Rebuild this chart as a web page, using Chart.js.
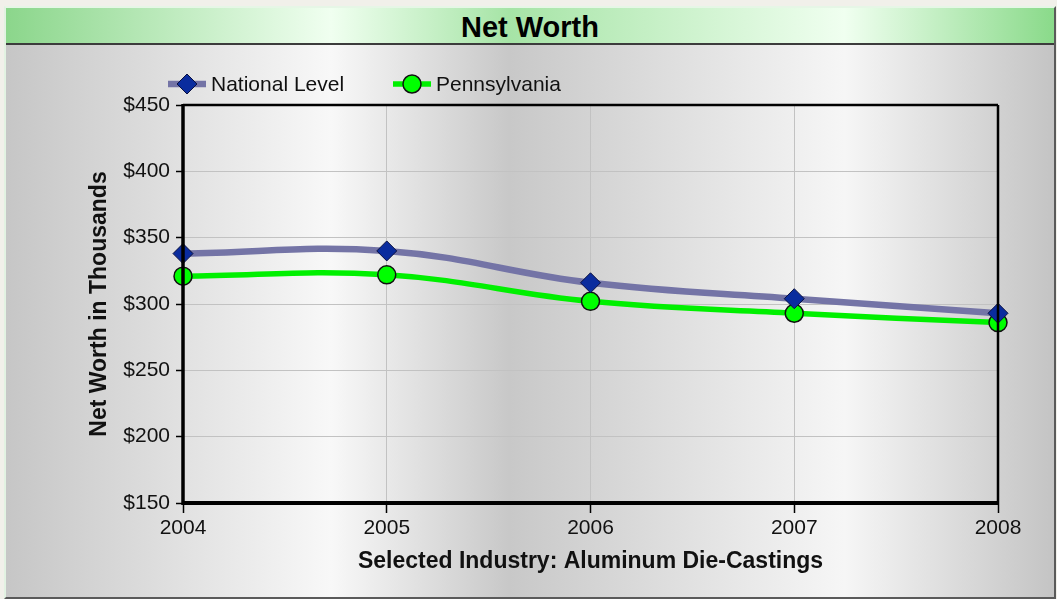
<!DOCTYPE html>
<html>
<head>
<meta charset="utf-8">
<title>Net Worth</title>
<script src="https://cdn.jsdelivr.net/npm/chart.js@4.4.1/dist/chart.umd.min.js"></script>
<style>
  html, body { margin: 0; padding: 0; width: 1057px; height: 599px; overflow: hidden; background: #f1f0ea; }
  #panel {
    position: absolute; left: 4px; top: 6px; width: 1048px; height: 589px;
    border-left: 2px solid #e2f2e2; border-top: 2px solid #e6f6e6;
    border-right: 2px solid #5a5a5a; border-bottom: 2px solid #5a5a5a;
    background: linear-gradient(90deg, #c6c6c6 0%, #f8f8f8 31%, #c8c8c8 48%, #f6f6f6 80%, #c4c4c4 100%);
  }
  #head {
    position: absolute; left: 0; top: 0; right: 0; height: 35px;
    border-bottom: 2px solid #3c3c3c;
    background: linear-gradient(90deg, #8bd68b 0%, #f0fff0 31%, #a6e4a6 48%, #f0fff0 80%, #8ada8a 100%);
    font: bold 29px 'Liberation Sans', Arial, sans-serif; color: #000;
    text-align: center; line-height: 39px;
  }
  #chart { position: absolute; left: 0; top: 0; }
</style>
</head>
<body>
<div id="panel"><div id="head">Net Worth</div></div>
<canvas id="chart" width="1057" height="599"></canvas>
<script>
// Years on the category axis
const years = ['2004', '2005', '2006', '2007', '2008'];
// Net worth, in thousands of dollars
const nationalLevel = [338, 340, 316, 304, 293];
const pennsylvania = [321, 322, 302, 293, 286];
// Value axis range and step
const yMin = 150;
const yMax = 450;
const yStep = 50;
// Series names and axis titles
const seriesNames = ['National Level', 'Pennsylvania'];
const yTitle = 'Net Worth in Thousands';
const xTitle = 'Selected Industry: Aluminum Die-Castings';

const FONT = "'Liberation Sans', Arial, sans-serif";

// Black frame around the plot, drawn over the lines and markers
const plotFrame = {
  id: 'plotFrame',
  afterDatasetsDraw(chart) {
    const { ctx, chartArea: a } = chart;
    ctx.save();
    ctx.strokeStyle = '#000';
    ctx.lineWidth = 2.5;
    ctx.beginPath();
    ctx.moveTo(a.left, a.top); ctx.lineTo(a.right, a.top);
    ctx.moveTo(a.right, a.top); ctx.lineTo(a.right, a.bottom);
    ctx.stroke();
    ctx.lineWidth = 3.5;
    ctx.beginPath();
    ctx.moveTo(a.left, a.top - 1); ctx.lineTo(a.left, a.bottom + 2);
    ctx.stroke();
    ctx.lineWidth = 4;
    ctx.beginPath();
    ctx.moveTo(a.left, a.bottom); ctx.lineTo(a.right + 1, a.bottom);
    ctx.stroke();
    ctx.restore();
  }
};

// Legend row: line sample with its marker, then the series name
const lineLegend = {
  id: 'lineLegend',
  afterDraw(chart, args, opts) {
    const { ctx } = chart;
    const y = opts.y;
    ctx.save();
    chart.data.datasets.forEach((ds, i) => {
      const x0 = opts.starts[i];
      const cx = x0 + 19;
      ctx.strokeStyle = ds.borderColor;
      ctx.lineWidth = ds.borderWidth;
      ctx.beginPath();
      ctx.moveTo(x0, y); ctx.lineTo(x0 + 38, y);
      ctx.stroke();
      ctx.fillStyle = ds.pointBackgroundColor;
      ctx.strokeStyle = ds.pointBorderColor;
      ctx.lineWidth = ds.pointBorderWidth;
      ctx.beginPath();
      const r = ds.pointRadius;
      if (ds.pointStyle === 'circle') {
        ctx.arc(cx, y, r, 0, Math.PI * 2);
      } else {
        ctx.moveTo(cx, y - r); ctx.lineTo(cx + r, y);
        ctx.lineTo(cx, y + r); ctx.lineTo(cx - r, y);
        ctx.closePath();
      }
      ctx.fill();
      ctx.stroke();
      ctx.fillStyle = '#111';
      ctx.font = '21px ' + FONT;
      ctx.textAlign = 'left';
      ctx.textBaseline = 'middle';
      ctx.fillText(ds.label, x0 + 43, y + 1);
    });
    ctx.restore();
  }
};

new Chart(document.getElementById('chart'), {
  type: 'line',
  data: {
    labels: years,
    datasets: [
      {
        label: seriesNames[1],
        data: pennsylvania,
        borderColor: '#00f000',
        borderWidth: 5.5,
        tension: 0.4,
        pointStyle: 'circle',
        pointRadius: 9,
        pointHoverRadius: 9,
        pointBackgroundColor: '#00ff00',
        pointBorderColor: '#111',
        pointBorderWidth: 1.5,
        clip: false,
        order: 2
      },
      {
        label: seriesNames[0],
        data: nationalLevel,
        borderColor: '#7474a6',
        borderWidth: 6.5,
        tension: 0.4,
        pointStyle: 'rectRot',
        pointRadius: 10,
        pointHoverRadius: 10,
        pointBackgroundColor: '#0a2c9e',
        pointBorderColor: '#0a1040',
        pointBorderWidth: 1,
        clip: false,
        order: 1
      }
    ]
  },
  options: {
    responsive: false,
    animation: false,
    devicePixelRatio: 1,
    layout: { padding: { left: 0, top: 105, right: 59, bottom: 0 } },
    plugins: {
      legend: { display: false },
      title: { display: false },
      tooltip: { enabled: false },
      lineLegend: { y: 84, starts: [393, 168] }
    },
    scales: {
      x: {
        type: 'category',
        offset: false,
        afterFit(scale) { scale.height = 96; },
        grid: { color: '#c2c2c2', lineWidth: 1, tickLength: 10, tickColor: '#000', tickWidth: 1.5 },
        border: { display: false },
        ticks: { color: '#111', font: { family: FONT, size: 21 }, padding: 3, maxRotation: 0 },
        title: {
          display: true, text: xTitle, color: '#111',
          font: { family: FONT, size: 23, weight: 'bold' },
          padding: { top: 0, bottom: 24 }
        }
      },
      y: {
        min: yMin, max: yMax,
        afterFit(scale) { scale.width = 183; },
        grid: { color: '#c2c2c2', lineWidth: 1, tickLength: 7, tickColor: '#000', tickWidth: 1.5 },
        border: { display: false },
        ticks: {
          stepSize: yStep, color: '#111', padding: 6,
          font: { family: FONT, size: 21 },
          callback: v => '$' + v
        },
        title: {
          display: true, text: yTitle, color: '#111',
          font: { family: FONT, size: 23, weight: 'bold' },
          padding: { top: 86, bottom: 0 }
        }
      }
    }
  },
  plugins: [plotFrame, lineLegend]
});
</script>
</body>
</html>
